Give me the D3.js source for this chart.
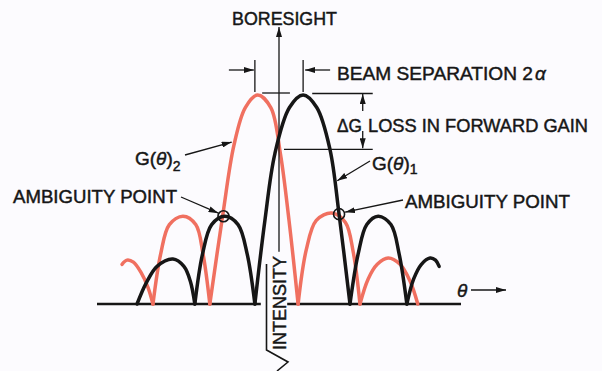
<!DOCTYPE html>
<html>
<head>
<meta charset="utf-8">
<script src="https://cdn.jsdelivr.net/npm/d3@7"></script>
<style>
  html, body { margin: 0; padding: 0; background: #fcfbfe; }
  svg { display: block; }
  text { font-family: "Liberation Sans", Arial, Helvetica, sans-serif; fill: #161616;
         stroke: #161616; stroke-width: 0.45; }
</style>
</head>
<body>
<svg id="chart" width="602" height="371"></svg>
<script>
// Beam patterns, one array of [θ, √intensity] points per lobe.
// G(θ)1 is the beam squinted to the right of boresight.
const beam1Lobes = [
  [[-31.2, 0], [-29.2, 0.10], [-26.8, 0.18], [-23.3, 0.215], [-20.9, 0.18], [-19.5, 0.11], [-18.5, 0]],
  [[-18.5, 0], [-16.8, 0.24], [-14.8, 0.38], [-11.9, 0.42], [-9.0, 0.38], [-7.0, 0.24], [-5.3, 0]],
  [[-5.3, 0], [-3.1, 0.40], [-0.9, 0.72], [2.3, 0.94], [5.3, 1.0], [8.3, 0.94], [11.2, 0.74], [13.2, 0.43], [15.6, 0]],
  [[15.6, 0], [17.4, 0.24], [19.3, 0.38], [21.8, 0.42], [24.6, 0.38], [26.4, 0.24], [28.1, 0]],
  [[28.1, 0], [29.6, 0.12], [31.3, 0.19], [33.2, 0.22], [34.4, 0.21], [35.2, 0.18]]
];

// G(θ)2 is the beam squinted to the left of boresight.
const beam2Lobes = [
  [[-34.5, 0.19], [-33.4, 0.21], [-32.0, 0.20], [-30.3, 0.15], [-28.8, 0.08], [-27.7, 0]],
  [[-27.7, 0], [-26.0, 0.24], [-24.1, 0.38], [-21.1, 0.42], [-18.3, 0.38], [-16.7, 0.24], [-15.2, 0]],
  [[-15.2, 0], [-12.4, 0.42], [-9.9, 0.76], [-7.4, 0.94], [-4.7, 1.0], [-1.8, 0.94], [0.3, 0.72], [2.2, 0.40], [4.2, 0]],
  [[4.2, 0], [6.0, 0.26], [8.2, 0.40], [11.6, 0.435], [14.6, 0.39], [16.3, 0.25], [17.8, 0]],
  [[17.8, 0], [19.6, 0.12], [21.6, 0.19], [24.0, 0.22], [26.6, 0.19], [28.8, 0.11], [30.5, 0]]
];

// Points where a sidelobe of one beam equals the main lobe of the other.
const ambiguityPoints = [[-12.2, 0.42], [13.2, 0.43]];

const halfSeparation = 5.3;   // α, beam offset from boresight
const peakLevel = 1.0;
const crossoverLevel = 0.74;  // both beams on boresight
const thetaDomain = [-40, 40];

const RED = "#f07060";
const INK = "#161616";

const svg = d3.select("#chart");
const x = d3.scaleLinear().domain(thetaDomain).range([97, 461]);
const y = d3.scaleLinear().domain([0, 1]).range([304, 95]);

// arrowhead marker
svg.append("defs").append("marker")
  .attr("id", "head")
  .attr("viewBox", "0 0 10 6")
  .attr("refX", 10).attr("refY", 3)
  .attr("markerUnits", "userSpaceOnUse")
  .attr("markerWidth", 10).attr("markerHeight", 6)
  .attr("orient", "auto")
  .append("path").attr("d", "M0,0 L10,3 L0,6 Z").attr("fill", INK);

function arrow(x1, y1, x2, y2) {
  svg.append("line")
    .attr("x1", x1).attr("y1", y1).attr("x2", x2).attr("y2", y2)
    .attr("stroke", INK).attr("stroke-width", 1.3)
    .attr("marker-end", "url(#head)");
}
function rule(x1, y1, x2, y2, w) {
  svg.append("line")
    .attr("x1", x1).attr("y1", y1).attr("x2", x2).attr("y2", y2)
    .attr("stroke", INK).attr("stroke-width", w || 1.3);
}
function label(px, py, size, str, width) {
  const t = svg.append("text").attr("x", px).attr("y", py).attr("font-size", size).text(str);
  if (width) t.attr("textLength", width).attr("lengthAdjust", "spacingAndGlyphs");
  return t;
}

// θ axis, broken where the vertical label crosses it
rule(x(thetaDomain[0]), y(0), x(-4), y(0), 2.6);
rule(x(1.8), y(0), x(thetaDomain[1]), y(0), 2.6);

// lobes
const lobe = d3.line()
  .x(d => x(d[0]))
  .y(d => y(d[1]))
  .curve(d3.curveCatmullRom.alpha(0.5));

svg.append("g").selectAll("path").data(beam2Lobes).join("path")
  .attr("d", lobe).attr("fill", "none")
  .attr("stroke", RED).attr("stroke-width", 3.5)
  .attr("stroke-linecap", "round").attr("stroke-linejoin", "round");

svg.append("g").selectAll("path").data(beam1Lobes).join("path")
  .attr("d", lobe).attr("fill", "none")
  .attr("stroke", INK).attr("stroke-width", 3.5)
  .attr("stroke-linecap", "round").attr("stroke-linejoin", "round");

// boresight axis
arrow(x(0), y(0.25), x(0), 27);
label(232, 25, 18, "BORESIGHT", 105);

// √INTENSITY, written up the boresight axis
svg.append("text")
  .attr("transform", `translate(${x(0) + 6.5},350) rotate(-90)`)
  .attr("font-size", 18).text("INTENSITY");
svg.append("path")
  .attr("d", `M277,371 L288,362 L266.5,350 L266.5,264`)
  .attr("fill", "none").attr("stroke", INK).attr("stroke-width", 1.6)
  .attr("stroke-linejoin", "miter");

// beam separation 2α
const tickTop = 60, tickBottom = y(peakLevel) - 3;
rule(x(-halfSeparation), tickTop, x(-halfSeparation), tickBottom);
rule(x(halfSeparation), tickTop, x(halfSeparation), tickBottom);
arrow(x(-halfSeparation) - 26, 70, x(-halfSeparation) - 1, 70);
arrow(x(halfSeparation) + 27, 70, x(halfSeparation) + 2, 70);
label(337, 80, 19, "BEAM SEPARATION 2", 196);
svg.append("text").attr("x", 535).attr("y", 80).attr("font-size", 19)
  .attr("font-style", "italic").text("α");

// peak and crossover levels, ΔG
rule(x(-3.7), y(peakLevel) - 2, x(2.4), y(peakLevel) - 2);
rule(x(7.3), y(peakLevel) - 1.5, x(20.6), y(peakLevel) - 1.5);
rule(x(1.1), y(crossoverLevel), x(20.6), y(crossoverLevel));
arrow(x(18.4), 111, x(18.4), y(peakLevel) - 1);
arrow(x(18.4), 131, x(18.4), y(crossoverLevel) - 1);
label(337, 132, 18, "ΔG", 25);
label(368, 132, 18, "LOSS IN FORWARD GAIN", 220);

// beam labels
const g2 = svg.append("text").attr("x", 135).attr("y", 165).attr("font-size", 19);
g2.append("tspan").text("G(");
g2.append("tspan").attr("font-style", "italic").text("θ");
g2.append("tspan").text(")");
g2.append("tspan").attr("font-size", 14).attr("dy", 6).text("2");
arrow(185, 155, x(-10.4), y(0.775));

const g1 = svg.append("text").attr("x", 372).attr("y", 170).attr("font-size", 19);
g1.append("tspan").text("G(");
g1.append("tspan").attr("font-style", "italic").text("θ");
g1.append("tspan").text(")");
g1.append("tspan").attr("font-size", 14).attr("dy", 4).text("1");
arrow(370, 161, x(12.8), y(0.59));

// ambiguity points
svg.append("g").selectAll("circle").data(ambiguityPoints).join("circle")
  .attr("cx", d => x(d[0])).attr("cy", d => y(d[1])).attr("r", 5.5)
  .attr("fill", "none").attr("stroke", INK).attr("stroke-width", 1.6);

label(13, 203, 18, "AMBIGUITY POINT", 164);
arrow(181, 197, x(ambiguityPoints[0][0]) - 5, y(ambiguityPoints[0][1]) - 3);
label(405, 208, 18, "AMBIGUITY POINT", 165);
arrow(403, 200, x(ambiguityPoints[1][0]) + 6, y(ambiguityPoints[1][1]) - 2);

// θ →
svg.append("text").attr("x", 457).attr("y", 297).attr("font-size", 19)
  .attr("font-style", "italic").text("θ");
arrow(471, 290, 506, 290);
</script>
</body>
</html>
